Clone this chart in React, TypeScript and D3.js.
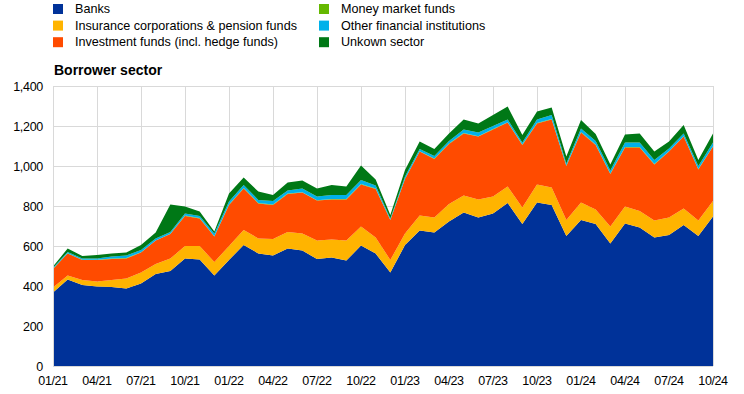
import React, { useEffect, useRef } from 'react';
import * as d3 from 'd3';

const months: string[] = [
  '01/21', '02/21', '03/21', '04/21', '05/21', '06/21', '07/21', '08/21', '09/21', '10/21', '11/21', '12/21',
  '01/22', '02/22', '03/22', '04/22', '05/22', '06/22', '07/22', '08/22', '09/22', '10/22', '11/22', '12/22',
  '01/23', '02/23', '03/23', '04/23', '05/23', '06/23', '07/23', '08/23', '09/23', '10/23', '11/23', '12/23',
  '01/24', '02/24', '03/24', '04/24', '05/24', '06/24', '07/24', '08/24', '09/24', '10/24',
];

const banks: number[] = [
  367, 433, 405, 397, 395, 388, 413, 460, 475, 538, 533, 453,
  530, 605, 563, 552, 587, 577, 535, 542, 527, 602, 562, 467,
  605, 677, 667, 722, 767, 743, 763, 815, 710, 817, 805, 650,
  730, 710, 613, 713, 693, 643, 655, 705, 650, 747,
];
const insurance: number[] = [
  26, 20, 25, 25, 35, 50, 54, 50, 62, 62, 67, 67,
  70, 75, 75, 83, 83, 86, 92, 91, 100, 96, 80, 63,
  58, 75, 76, 88, 86, 90, 84, 82, 83, 91, 87, 80,
  88, 73, 84, 84, 82, 84, 87, 83, 77, 78,
];
const investment: number[] = [
  92, 110, 100, 108, 105, 100, 100, 117, 123, 150, 138, 127,
  205, 208, 175, 170, 190, 204, 200, 200, 206, 210, 243, 200,
  272, 320, 292, 300, 310, 314, 336, 320, 312, 305, 341, 270,
  350, 322, 263, 296, 318, 281, 330, 359, 256, 272,
];
const moneyMarket: number[] = [
  1, 1, 1, 1, 2, 2, 2, 1, 1, 2, 2, 2,
  2, 2, 2, 2, 2, 2, 2, 2, 2, 2, 2, 1,
  1, 2, 2, 2, 2, 2, 2, 2, 2, 2, 2, 2,
  2, 2, 2, 2, 2, 2, 2, 2, 2, 2,
];
const otherFi: number[] = [
  5, 6, 6, 7, 10, 12, 11, 9, 9, 11, 10, 13,
  15, 15, 15, 18, 15, 18, 18, 20, 20, 20, 15, 7,
  11, 11, 13, 13, 18, 18, 15, 14, 10, 18, 20, 11,
  18, 18, 15, 22, 22, 20, 14, 14, 15, 18,
];
const unknown: number[] = [
  7, 17, 13, 17, 16, 16, 25, 30, 138, 34, 22, 10,
  41, 37, 42, 30, 40, 40, 41, 50, 42, 72, 30, 17,
  33, 37, 35, 38, 50, 46, 55, 64, 38, 39, 37, 34,
  42, 35, 31, 41, 46, 42, 34, 42, 30, 46,
];

const seriesNames: string[] = [
  'Banks',
  'Insurance corporations & pension funds',
  'Investment funds (incl. hedge funds)',
  'Money market funds',
  'Other financial institutions',
  'Unkown sector',
];
const colors: string[] = ['#003299', '#ffb400', '#ff4b00', '#65b800', '#00b1ea', '#007816'];
const yTicks: number[] = [0, 200, 400, 600, 800, 1000, 1200, 1400];

const FONT = "Arial, 'Liberation Sans', sans-serif";

const App: React.FC = () => {
  const ref = useRef<SVGSVGElement | null>(null);

  useEffect(() => {
    const el = ref.current;
    if (!el) return;
    const svg = d3.select(el);
    svg.selectAll('*').remove();

    const left = 53;
    const right = 713;
    const top = 86;
    const bottom = 366;

    const x = d3.scaleLinear().domain([0, months.length - 1]).range([left, right]);
    const y = d3.scaleLinear().domain([0, 1400]).range([bottom, top]);

    const rows = months.map((m, i) => ({
      month: m,
      s0: banks[i],
      s1: insurance[i],
      s2: investment[i],
      s3: moneyMarket[i],
      s4: otherFi[i],
      s5: unknown[i],
    }));
    const keys = ['s0', 's1', 's2', 's3', 's4', 's5'];
    const stacked = d3.stack<any>().keys(keys)(rows);

    // grid
    const grid = svg.append('g').attr('stroke', '#d9d9d9').attr('stroke-width', 1);
    yTicks.forEach((t) => {
      grid.append('line')
        .attr('x1', left).attr('x2', right)
        .attr('y1', Math.round(y(t)) + 0.5).attr('y2', Math.round(y(t)) + 0.5);
    });
    months.forEach((_, i) => {
      if (i % 3 !== 0) return;
      grid.append('line')
        .attr('x1', Math.round(x(i)) + 0.5).attr('x2', Math.round(x(i)) + 0.5)
        .attr('y1', top).attr('y2', bottom);
    });

    const area = d3.area<any>()
      .x((_, i) => x(i))
      .y0((d) => y(d[0]))
      .y1((d) => y(d[1]));

    svg.append('g')
      .selectAll('path')
      .data(stacked)
      .enter()
      .append('path')
      .attr('fill', (_, i) => colors[i])
      .attr('d', area as any);

    // axis lines
    svg.append('line')
      .attr('x1', left).attr('x2', right)
      .attr('y1', bottom + 0.5).attr('y2', bottom + 0.5)
      .attr('stroke', '#d9d9d9');
    svg.append('line')
      .attr('x1', left + 0.5).attr('x2', left + 0.5)
      .attr('y1', top).attr('y2', bottom)
      .attr('stroke', '#d9d9d9');

    // y labels
    svg.append('g')
      .selectAll('text')
      .data(yTicks)
      .enter()
      .append('text')
      .attr('x', 43)
      .attr('y', (d) => y(d) + 4.5)
      .attr('text-anchor', 'end')
      .style('font-family', FONT)
      .style('font-size', '12.5px')
      .style('letter-spacing', '-0.3px')
      .attr('fill', '#000')
      .text((d) => d3.format(',')(d));

    // x labels
    svg.append('g')
      .selectAll('text')
      .data(months.filter((_, i) => i % 3 === 0))
      .enter()
      .append('text')
      .attr('x', (_, j) => x(j * 3))
      .attr('y', 385)
      .attr('text-anchor', 'middle')
      .style('font-family', FONT)
      .style('font-size', '12.5px')
      .style('letter-spacing', '-0.4px')
      .attr('fill', '#000')
      .text((d) => d);

    // legend
    const legend = svg.append('g');
    seriesNames.forEach((name, i) => {
      const col = i < 3 ? 0 : 1;
      const row = i % 3;
      const lx = col === 0 ? 53 : 319;
      const ly = 9 + row * 16.6;
      legend.append('rect')
        .attr('x', lx).attr('y', ly - 5)
        .attr('width', 10).attr('height', 10)
        .attr('fill', colors[i]);
      legend.append('text')
        .attr('x', lx + 22).attr('y', ly + 4)
        .style('font-family', FONT)
        .style('font-size', '12.6px')
        .attr('fill', '#000')
        .text(name);
    });

    svg.append('text')
      .attr('x', 54).attr('y', 75)
      .style('font-family', FONT)
      .style('font-size', '14px')
      .style('font-weight', 'bold')
      .attr('fill', '#000')
      .text('Borrower sector');
  }, []);

  return (
    <div style={{ position: 'absolute', left: 0, top: 0 }}>
      <svg ref={ref} width={744} height={394} style={{ display: 'block', background: '#fff' }} />
    </div>
  );
};

export default App;
